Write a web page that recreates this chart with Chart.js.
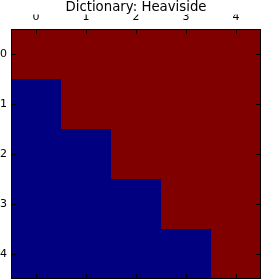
<!DOCTYPE html>
<html><head><meta charset="utf-8">
<script src="https://cdn.jsdelivr.net/npm/chart.js@4"></script>
<style>html,body{margin:0;padding:0;background:#fff;overflow:hidden}</style>
</head><body>
<canvas id="c" width="262" height="280" style="display:block;width:262px;height:280px"></canvas>
<script>
const chartTitle = 'Dictionary: Heaviside';
const colLabels = ['0', '1', '2', '3', '4'];
const rowLabels = [0, 1, 2, 3, 4];
const row0 = [1, 1, 1, 1, 1];
const row1 = [0, 1, 1, 1, 1];
const row2 = [0, 0, 1, 1, 1];
const row3 = [0, 0, 0, 1, 1];
const row4 = [0, 0, 0, 0, 1];
const matrix = [row0, row1, row2, row3, row4];
const lowColor = '#000080';
const highColor = '#800000';

const datasets = matrix.map((row, i) => ({
  label: 'row ' + rowLabels[i],
  data: row.map(() => [rowLabels[i] - 0.5, rowLabels[i] + 0.5]),
  backgroundColor: row.map(v => v ? highColor : lowColor),
  borderWidth: 0,
  inflateAmount: 0,
  barPercentage: 1,
  categoryPercentage: 1,
  grouped: false
}));

const frame = {
  id: 'frame',
  afterDatasetsDraw(chart) {
    const { ctx, chartArea: a, scales: { x, y } } = chart;
    ctx.save();
    ctx.strokeStyle = '#000';
    ctx.lineWidth = 1;
    ctx.beginPath();
    x.ticks.forEach((t, i) => {
      const px = Math.round(x.getPixelForTick(i)) + 0.5;
      ctx.moveTo(px, a.top); ctx.lineTo(px, a.top + 5);
      ctx.moveTo(px, a.bottom); ctx.lineTo(px, a.bottom - 5);
    });
    y.ticks.forEach((t, i) => {
      const py = Math.round(y.getPixelForTick(i)) + 0.5;
      ctx.moveTo(a.left, py); ctx.lineTo(a.left + 5, py);
      ctx.moveTo(a.right, py); ctx.lineTo(a.right - 5, py);
    });
    ctx.stroke();
    ctx.strokeRect(a.left + 0.5, a.top + 0.5, a.right - a.left - 1, a.bottom - a.top - 1);
    ctx.restore();
  }
};

new Chart(document.getElementById('c'), {
  type: 'bar',
  data: { labels: colLabels, datasets },
  options: {
    responsive: false,
    animation: false,
    devicePixelRatio: 1,
    layout: { padding: { left: 0, right: 1, top: 0, bottom: 1 } },
    plugins: {
      legend: { display: false },
      tooltip: { enabled: false },
      title: {
        display: true,
        text: chartTitle,
        fullSize: false,
        color: '#000',
        font: { family: 'DejaVu Sans', size: 13.3, weight: 'normal', lineHeight: 1.09 },
        padding: { top: 0, bottom: 0 }
      }
    },
    scales: {
      x: {
        type: 'category',
        position: 'top',
        offset: true,
        grid: { display: false, drawTicks: false },
        border: { display: false },
        ticks: { color: '#000', padding: 5, maxRotation: 0, font: { family: 'DejaVu Sans', size: 11 } },
        afterFit: s => { s.height = 14.5; s.paddingLeft = 0; s.paddingRight = 0; }
      },
      y: {
        type: 'linear',
        reverse: true,
        min: -0.5,
        max: 4.5,
        afterBuildTicks: s => { s.ticks = rowLabels.map(v => ({ value: v })); },
        grid: { display: false, drawTicks: false },
        border: { display: false },
        ticks: { color: '#000', padding: 4, font: { family: 'DejaVu Sans', size: 11 } },
        afterFit: s => { s.width = 11; s.paddingTop = 0; s.paddingBottom = 0; }
      }
    }
  },
  plugins: [frame]
});
</script>
</body></html>
